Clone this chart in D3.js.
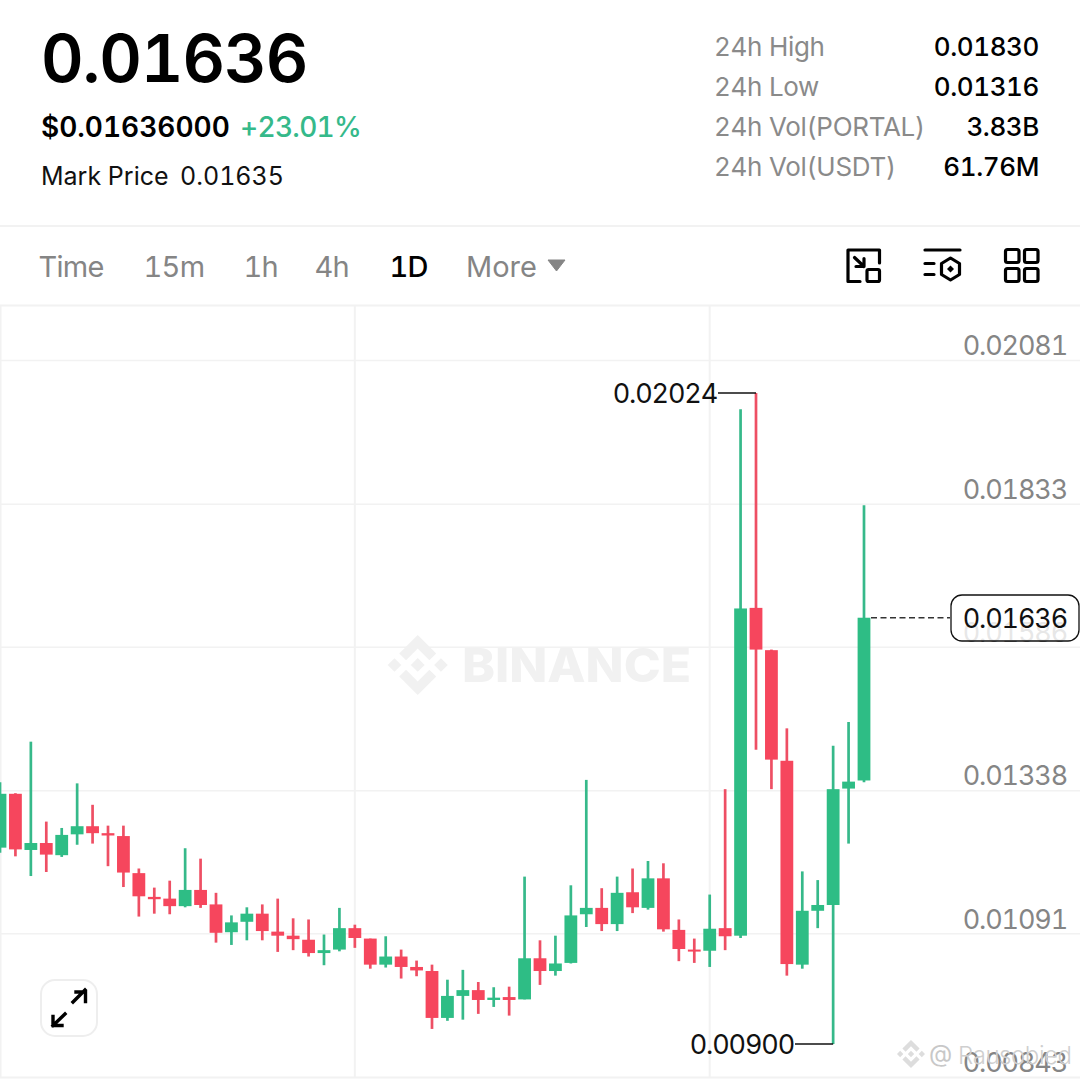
<!DOCTYPE html>
<html><head><meta charset="utf-8">
<script src="https://cdn.jsdelivr.net/npm/d3@7"></script>
<style>html,body{margin:0;padding:0;background:#fff}svg{display:block;font-family:Inter,"Noto Sans",sans-serif;font-variant-numeric:tabular-nums;font-feature-settings:"tnum" 1}</style>
</head><body><svg id="c" width="1080" height="1080"></svg>
<script>
const opens=[.01239,.01332,.01235,.01247,.01226,.01262,.01276,.01264,.01259,.01195,.01154,.01151,.01138,.01166,.01141,.01093,.01111,.01125,.01094,.01087,.01080,.01057,.01063,.01100,.01082,.01037,.01051,.01033,.01026,.00945,.00983,.00993,.00976,.00981,.00977,.01048,.01026,.01040,.01124,.01135,.01107,.01162,.01135,.01186,.01097,.01063,.01061,.01100,.01087,.01653,.01580,.01389,.01037,.01130,.01140,.01341,.01355];
const closes=[.01332,.01236,.01247,.01227,.01261,.01276,.01264,.01260,.01196,.01155,.01150,.01138,.01166,.01140,.01092,.01110,.01125,.01095,.01087,.01081,.01057,.01062,.01100,.01083,.01037,.01051,.01033,.01027,.00945,.00983,.00993,.00976,.00980,.00976,.01048,.01026,.01039,.01122,.01135,.01107,.01161,.01136,.01186,.01098,.01064,.01060,.01099,.01086,.01652,.01581,.01391,.01038,.01130,.01140,.01340,.01353,.01636];
const highs=[.01352,.01333,.01422,.01284,.01273,.01350,.01313,.01277,.01277,.01203,.01170,.01182,.01238,.01220,.01161,.01122,.01136,.01141,.01151,.01117,.01115,.01089,.01135,.01106,.01082,.01086,.01063,.01044,.01037,.01011,.01028,.01007,.00998,.00999,.01189,.01079,.01087,.01174,.01356,.01169,.01189,.01203,.01216,.01212,.01115,.01082,.01158,.01340,.01996,.02024,.01581,.01445,.01198,.01183,.01415,.01456,.01830];
const lows=[.01230,.01224,.01190,.01197,.01223,.01244,.01246,.01207,.01171,.01120,.01125,.01124,.01136,.01135,.01075,.01071,.01079,.01079,.01059,.01062,.01051,.01036,.01060,.01066,.01030,.01032,.01013,.01017,.00926,.00940,.00942,.00952,.00964,.00949,.00977,.01002,.01018,.01039,.01102,.01095,.01095,.01126,.01132,.01094,.01043,.01040,.01033,.01062,.01083,.01408,.01340,.01018,.01030,.01100,.00900,.01246,.01352];
const priceTicks=[.02081,.01833,.01586,.01338,.01091,.00843];
const timeGridIndex=[23,46];
const lastPrice=.01636, maxLabel=.02024, minLabel=.00900;
const tabs=["Time","15m","1h","4h","1D","More"];
const statLabels=["24h High","24h Low","24h Vol(PORTAL)","24h Vol(USDT)"];
const statValues=["0.01830","0.01316","3.83B","61.76M"];

const GREEN="#2EBD85",RED="#F6465D",GRID="#F2F2F2",AXIS="#858585";
const svg=d3.select("#c");
const y=d3.scaleLinear().domain([.00843,.02081]).range([1077,360]);
const x=d3.scaleLinear().domain([0,56]).range([0,864]);
const T=(s,px,py,size,fill,weight,anchor,ls)=>svg.append("text").attr("x",px).attr("y",py).attr("font-size",size).attr("fill",fill).attr("font-weight",weight||400).attr("text-anchor",anchor||"start").attr("letter-spacing",ls||0).text(s);

// frame
const frame=[[0,226,1080,226],[0,305.5,1080,305.5],[0.5,305,0.5,1077],[0,1077.5,1080,1077.5]];
svg.append("g").selectAll("line").data(frame).join("line").attr("x1",d=>d[0]).attr("y1",d=>d[1]).attr("x2",d=>d[2]).attr("y2",d=>d[3]).attr("stroke",GRID).attr("stroke-width",2);

// grid
svg.append("g").attr("class","grid-y")
  .call(d3.axisRight(y).tickValues(priceTicks.slice(0,5)).tickSize(1080).tickFormat(""))
  .call(g=>g.select(".domain").remove()).selectAll("line").attr("stroke",GRID).attr("stroke-width",1.5);
svg.append("g").selectAll("line.v").data(timeGridIndex).join("line").attr("x1",d=>x(d)).attr("x2",d=>x(d)).attr("y1",305).attr("y2",1077).attr("stroke",GRID).attr("stroke-width",2);

// watermark
const logo="M38.73 53.2l24.59-24.58 24.6 24.6 14.3-14.31L63.32 0 24.42 38.9zM0 63.31l14.3-14.31 14.31 14.31-14.31 14.3zM38.73 73.41l24.59 24.59 24.6-24.6 14.31 14.29-38.9 38.91-38.91-38.88v-.03zM98 63.31l14.3-14.31 14.31 14.3-14.31 14.32zM77.83 63.3L63.32 48.78 52.59 59.51l-1.24 1.23-2.54 2.54 14.51 14.5 14.51-14.47z";
svg.append("path").attr("d",logo).attr("transform","translate(387.7,635) scale(.474)").attr("fill","#F1F1F1");
T("BINANCE",462,682,47,"#F1F1F1",800).attr("textLength",229).attr("lengthAdjust","spacingAndGlyphs");

// axis labels
svg.append("g").attr("transform","translate(1067,-14)")
  .call(d3.axisLeft(y).tickValues(priceTicks).tickSize(0).tickPadding(0).tickFormat(d3.format(".5f")))
  .call(g=>g.select(".domain").remove())
  .selectAll("text").attr("font-size",27).attr("font-family","Inter").attr("fill",AXIS).attr("letter-spacing",-1.15);

// candles
const idx=d3.range(opens.length);
const up=i=>closes[i]>=opens[i];
svg.append("g").selectAll("line").data(idx).join("line")
  .attr("x1",i=>x(i)).attr("x2",i=>x(i)).attr("y1",i=>y(highs[i])).attr("y2",i=>y(lows[i]))
  .attr("stroke",i=>up(i)?"#36B98A":"#EE4F64").attr("stroke-width",2.7);
svg.append("g").selectAll("rect").data(idx).join("rect")
  .attr("x",i=>x(i)-6.4).attr("width",12.8)
  .attr("y",i=>y(Math.max(opens[i],closes[i])))
  .attr("height",i=>Math.max(2,Math.abs(y(opens[i])-y(closes[i]))))
  .attr("fill",i=>up(i)?GREEN:RED);

// annotations
svg.append("line").attr("x1",718).attr("x2",x(49)).attr("y1",y(maxLabel)).attr("y2",y(maxLabel)).attr("stroke","#111").attr("stroke-width",1.3);
T(d3.format(".5f")(maxLabel),717,y(maxLabel)+10,27,"#111",400,"end",-1.15);
svg.append("line").attr("x1",795).attr("x2",x(54)).attr("y1",y(minLabel)).attr("y2",y(minLabel)).attr("stroke","#111").attr("stroke-width",1.3);
T(d3.format(".5f")(minLabel),794,y(minLabel)+10,27,"#111",400,"end",-1.15);
svg.append("line").attr("x1",871).attr("x2",950).attr("y1",y(lastPrice)).attr("y2",y(lastPrice)).attr("stroke","#333").attr("stroke-width",1.3).attr("stroke-dasharray","6 3.5");
svg.append("rect").attr("x",951).attr("y",595).attr("width",128).attr("height",46).attr("rx",11).attr("fill","#fff").attr("fill-opacity",.8).attr("stroke","#111").attr("stroke-width",1.3);
T(d3.format(".5f")(lastPrice),1067,y(lastPrice)+10,27,"#111",400,"end",-1.15);

// header
T("0.01636",41,82,66,"#000",600,"start",-1.1);
T("$0.01636000",41,137,28,"#000",600);
T("+23.01%",240,137,28,"#35B98A",500,"start",-0.7);
T("Mark Price",41,185,25,"#111",400);
T("0.01635",180,185,25,"#111",400);
statLabels.forEach((s,i)=>{T(s,714,56+i*40,26,"#8a8a8a",400,"start",-0.3);T(statValues[i],1039,56+i*40,26,"#000",500,"end",-0.4);});
const tabX=[38.5,143.5,243.5,314.5,389.5,466];
tabs.forEach((s,i)=>T(s,tabX[i],277,29,s==="1D"?"#000":"#858585",s==="1D"?500:400,"start",i<5?-0.7:0));
svg.append("path").attr("d","M548 260H565L556.5 271Z").attr("fill","#858585").attr("stroke","#858585").attr("stroke-width",1).attr("stroke-linejoin","round");

// icons
const ic=svg.append("g").attr("fill","none").attr("stroke","#000").attr("stroke-width",3.2).attr("stroke-linecap","round").attr("stroke-linejoin","round");
ic.append("path").attr("d","M860 281.5H848V250H879.5V263");
ic.append("rect").attr("x",867).attr("y",269.5).attr("width",12.5).attr("height",12).attr("rx",1.5);
ic.append("path").attr("d","M854.5 257.5L864 266.5M864 258.5V266.5H856");
ic.append("path").attr("d","M925 250H960M925 263.5H934M925 274.5H934");
ic.append("path").attr("d","M950.5 258L959.5 263.5V274.5L950.5 280L941.5 274.5V263.5Z");
svg.append("path").attr("d","M950.5 265.5L954 269L950.5 272.5L947 269Z").attr("fill","#000");
[[1005.5,249.5],[1024.5,249.5],[1005.5,268.5],[1024.5,268.5]].forEach(p=>ic.append("rect").attr("x",p[0]).attr("y",p[1]).attr("width",13.5).attr("height",13).attr("rx",2));

// expand button
svg.append("rect").attr("x",41).attr("y",980).attr("width",56).attr("height",56).attr("rx",14).attr("fill","#fff").attr("stroke","#EEE").attr("stroke-width",2);
const ex=svg.append("g").attr("fill","none").attr("stroke","#000").attr("stroke-width",3.4).attr("stroke-linecap","square");
ex.append("path").attr("d","M73 1002L85 990M76 992H85.5V1001.5");
ex.append("path").attr("d","M65 1014L53 1025.5M53 1016.5V1025.5H62");

// author watermark
svg.append("path").attr("d",logo).attr("transform","translate(897,1040) scale(.221)").attr("fill","#DDD");
T("@",929,1062,24,"#C8C8C8",400);
T("Rausobied",958,1064,24,"#CFCFCF",300).attr("textLength",114);
</script></body></html>
